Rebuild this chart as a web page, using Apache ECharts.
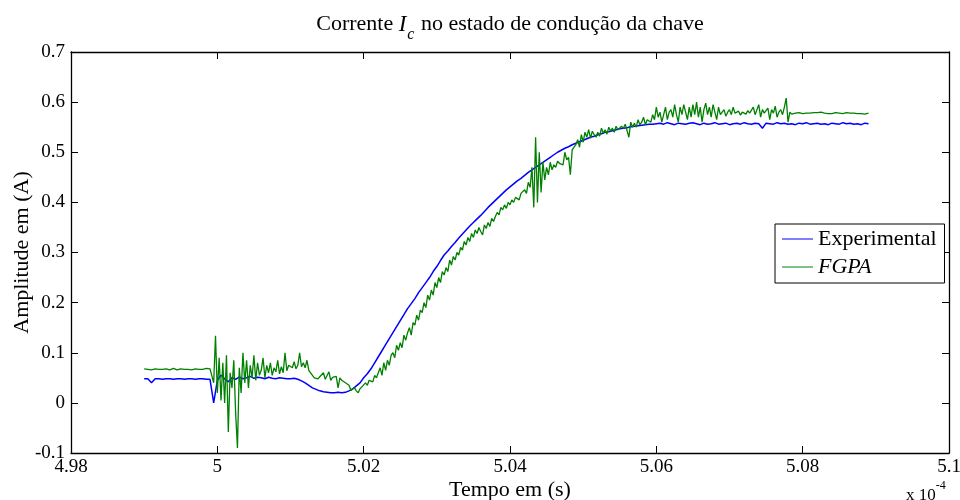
<!DOCTYPE html>
<html>
<head>
<meta charset="utf-8">
<title>Corrente Ic no estado de condução da chave</title>
<script src="https://cdn.jsdelivr.net/npm/echarts@6/dist/echarts.min.js"></script>
<style>
  html, body { margin: 0; padding: 0; background: #fff; }
  #chart { width: 960px; height: 500px; }
</style>
</head>
<body>
<div id="chart"></div>
<script>
// Time axis is in units of 1e-4 s (the "x 10^-4" multiplier)
const xTicks = [4.98, 5.0, 5.02, 5.04, 5.06, 5.08, 5.1];
const yTicks = [-0.1, 0, 0.1, 0.2, 0.3, 0.4, 0.5, 0.6, 0.7];

// Sampling of each record: first sample time and sample period (x 1e-4 s)
const expStart = 4.990, expStep = 0.0005;
const fgpaStart = 4.990, fgpaStep = 0.00025;

// Experimental current, in mA
const experimentalMA = [
  48,48, 40,48, 48,47, 48,48, 47,48, 48,47, 48,48, 47,48, 48,47, 47,0,
  45,55, 48,42, 50,47, 52,48, 50,53, 49,51, 50,48, 51,49, 48,50, 49,48,
  48,49, 47,44, 40,35, 30,27, 24,22, 21,20, 20,21, 20,21, 24,28, 34,40,
  50,58, 68,80, 92,104, 116,128, 140,152, 164,176, 188,198, 208,220, 230,240, 250,262,
  272,284, 295,303, 312,320, 329,337, 345,353, 360,367, 374,382, 390,397, 404,411, 418,425,
  431,437, 443,448, 454,460, 465,470, 475,480, 485,490, 495,500, 504,508, 511,515, 518,521,
  524,527, 530,532, 535,537, 540,541, 543,545, 547,548, 549,551, 552,553, 554,555, 556,556,
  557,558, 556,559, 557,555, 558,557, 556,558, 559,557, 555,558, 556,557,
  559,556, 557,558, 555,557, 558,556, 559,557, 556,558, 557,548, 558,557,
  556,559, 557,558, 556,557, 555,558, 557,559, 556,557, 558,556, 557,555,
  558,557, 556,559, 557,558, 556,557, 555,558,
  557
];

// FGPA current, in mA
const fgpaMA = [
  68,66,67,69, 66,67,68,66, 67,69,67,66, 68,67,66,68, 69,67,66,67,
  68,66,67,68, 67,69,66,67, 68,66,67,68, 67,66,69,67, 68,66,40,134,
  20,90,5,80, 0,95,-58,60, 30,85,-20,-90, 70,20,100,40, 85,30,75,50,
  95,45,80,55, 65,90,50,75, 60,80,55,70, 62,85,58,72, 60,100,64,75,
  78,70,82,68, 75,100,72,80, 70,85,65,60, 55,50,52,48, 52,49,60,47,
  50,62,45,51, 48,53,30,50, 45,42,40,38, 35,25,22,30, 24,20,28,32,
  30,40,35,45, 48,42,55,50, 60,70,55,80, 65,85,75,95, 100,90,115,105,
  120,110,135,125, 140,150,135,160, 155,175,165,185, 180,200,190,215, 205,225,215,240,
  230,250,240,262, 255,270,262,285, 275,292,285,300, 295,310,305,322, 315,330,322,338,
  330,345,338,350, 342,335,355,348, 360,352,368,362, 372,380,375,390, 385,395,388,400,
  395,405,400,410, 412,405,418,420, 425,418,440,430, 470,390,530,400, 500,420,480,445,
  470,455,480,465, 475,470,482,478, 480,475,500,485, 490,455,505,510, 515,525,510,535,
  520,540,530,545, 528,542,535,530, 540,532,548,538, 545,536,550,542, 548,540,552,545,
  544,552,548,556, 555,530,560,550, 558,550,565,555, 560,570,555,565, 568,560,575,565,
  590,570,580,560, 575,590,565,580, 585,570,595,575, 560,590,575,595, 580,565,590,570,
  595,575,600,570, 590,560,585,598, 575,590,570,595, 580,565,590,575, 578,585,572,580,
  585,575,590,578, 578,582,574,580, 580,576,583,578, 577,590,575,585, 595,570,585,578,
  580,588,565,585, 578,592,570,580, 585,575,590,608, 560,580,576,579, 578,577,579,578,
  577,580,578,579, 578,576,579,577, 579,578,580,577, 578,579,577,580, 577,578,579,578,
  578,580,577,579, 579,577,578,576, 578,579,577,580, 577,578,576,579,
  578
];

const seriesNames = ['Experimental', 'FGPA'];

function toPairs(start, step, valuesMA) {
  return valuesMA.map((v, i) => [+(start + i * step).toFixed(5), v / 1000]);
}

const FONT = '"Liberation Serif", "Times New Roman", serif';
const fmt = v => String(parseFloat((+v).toFixed(2)));

const chart = echarts.init(document.getElementById('chart'), null, { renderer: 'canvas' });

const tickStyle = { show: true, inside: true, length: 7, lineStyle: { color: '#000', width: 1 } };
const lineStyle = { show: true, onZero: false, lineStyle: { color: '#000', width: 1.3 } };

chart.setOption({
  animation: false,
  backgroundColor: '#fff',
  grid: { left: 71, right: 11, top: 52, bottom: 47, containLabel: false, outerBoundsMode: 'none' },
  graphic: [
    {
      type: 'text',
      x: 510,
      y: 6,
      style: {
        text: '{a|Corrente }{i|I}{s|c}{a| no estado de condução da chave}',
        align: 'center',
        rich: {
          a: { fontFamily: FONT, fontSize: 22, fill: '#000' },
          i: { fontFamily: FONT, fontSize: 23, fontStyle: 'italic', fill: '#000' },
          s: { fontFamily: FONT, fontSize: 16, fontStyle: 'italic', fill: '#000', padding: [21, 1, 0, 1] }
        }
      }
    },
    {
      type: 'text',
      left: 906,
      top: 480,
      style: {
        text: '{a|x 10}{e|-4}',
        rich: {
          a: { fontFamily: FONT, fontSize: 17, fill: '#000', padding: [10, 0, 0, 0] },
          e: { fontFamily: FONT, fontSize: 12, fill: '#000', padding: [0, 0, 9, 0] }
        }
      }
    }
  ],
  legend: {
    orient: 'vertical',
    left: 775,
    top: 224,
    data: seriesNames,
    icon: 'rect',
    itemWidth: 31,
    itemHeight: 1,
    itemGap: 6,
    padding: [4, 8, 5, 7],
    borderColor: '#000',
    borderWidth: 1,
    borderRadius: 0,
    backgroundColor: '#fff',
    textStyle: {
      fontFamily: FONT, fontSize: 22, color: '#000',
      rich: { it: { fontFamily: FONT, fontSize: 22, fontStyle: 'italic', color: '#000' } }
    },
    formatter: name => name === 'FGPA' ? '{it|FGPA}' : name
  },
  xAxis: [
    {
      type: 'value', min: xTicks[0], max: xTicks[xTicks.length - 1], interval: 0.02,
      position: 'bottom',
      name: 'Tempo em (s)', nameLocation: 'middle', nameGap: 26, nameMoveOverlap: false,
      nameTextStyle: { fontFamily: FONT, fontSize: 22, color: '#000' },
      axisLine: lineStyle, axisTick: tickStyle, splitLine: { show: false },
      axisLabel: { fontFamily: FONT, fontSize: 19, color: '#000', margin: 5, formatter: fmt }
    },
    {
      type: 'value', min: xTicks[0], max: xTicks[xTicks.length - 1], interval: 0.02,
      position: 'top',
      axisLine: lineStyle, axisTick: tickStyle, splitLine: { show: false },
      axisLabel: { show: false }
    }
  ],
  yAxis: [
    {
      type: 'value', min: yTicks[0], max: yTicks[yTicks.length - 1], interval: 0.1,
      position: 'left',
      name: 'Amplitude em (A)', nameLocation: 'middle', nameGap: 38, nameRotate: 90, nameMoveOverlap: false,
      nameTextStyle: { fontFamily: FONT, fontSize: 22, color: '#000' },
      axisLine: lineStyle, axisTick: tickStyle, splitLine: { show: false },
      axisLabel: { fontFamily: FONT, fontSize: 19, color: '#000', margin: 6, formatter: fmt }
    },
    {
      type: 'value', min: yTicks[0], max: yTicks[yTicks.length - 1], interval: 0.1,
      position: 'right',
      axisLine: lineStyle, axisTick: tickStyle, splitLine: { show: false },
      axisLabel: { show: false }
    }
  ],
  series: [
    {
      name: seriesNames[0], type: 'line', showSymbol: false, symbol: 'none',
      xAxisIndex: 0, yAxisIndex: 0,
      data: toPairs(expStart, expStep, experimentalMA),
      lineStyle: { color: '#0000ff', width: 1.5 },
      itemStyle: { color: '#0000ff' }
    },
    {
      name: seriesNames[1], type: 'line', showSymbol: false, symbol: 'none',
      xAxisIndex: 0, yAxisIndex: 0,
      data: toPairs(fgpaStart, fgpaStep, fgpaMA),
      lineStyle: { color: '#008000', width: 1.3 },
      itemStyle: { color: '#008000' }
    }
  ]
});
</script>
</body>
</html>
